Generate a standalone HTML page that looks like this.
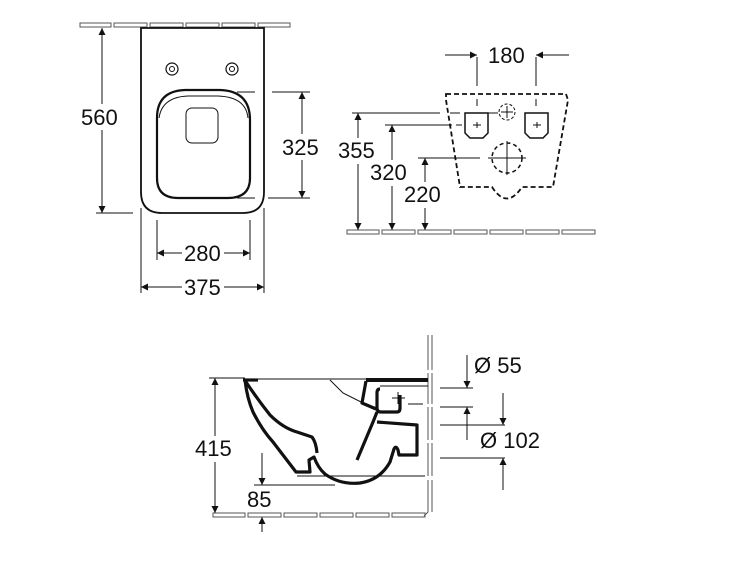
<!DOCTYPE html>
<html><head><style>html,body{margin:0;padding:0;background:#fff}svg{display:block}text{font-family:"Liberation Sans",sans-serif;font-size:22px;fill:#111}</style></head><body>
<svg width="750" height="563" viewBox="0 0 750 563" xmlns="http://www.w3.org/2000/svg">
<defs>
<marker id="a" viewBox="0 0 10 10" refX="10" refY="5" markerWidth="15" markerHeight="7" markerUnits="userSpaceOnUse" orient="auto-start-reverse"><path d="M0,0L10,5L0,10z" fill="#111"/></marker>
</defs>
<g fill="none" stroke="#555" stroke-width="1">
<rect x="80" y="23" width="31" height="4"/><rect x="114" y="23" width="33" height="4"/><rect x="150" y="23" width="33" height="4"/><rect x="186" y="23" width="33" height="4"/><rect x="222" y="23" width="33" height="4"/><rect x="258" y="23" width="32" height="4"/>
<rect x="347" y="230" width="32" height="4"/><rect x="382" y="230" width="33" height="4"/><rect x="418" y="230" width="33" height="4"/><rect x="454" y="230" width="33" height="4"/><rect x="490" y="230" width="33" height="4"/><rect x="526" y="230" width="33" height="4"/><rect x="562" y="230" width="33" height="4"/>
<rect x="213" y="513" width="32" height="4"/><rect x="248" y="513" width="33" height="4"/><rect x="284" y="513" width="33" height="4"/><rect x="320" y="513" width="33" height="4"/><rect x="356" y="513" width="33" height="4"/><rect x="392" y="513" width="33" height="4"/>
<path d="M428,335V370M428,373V404M428,407V440M428,443V476M428,480V512L424,516"/>
<path d="M432,335V370M432,373V404M432,407V440M432,443V476M432,480V512"/>
</g>

<g fill="none" stroke="#111">
<path d="M141,28H264V192Q264,213 243,213H162Q141,213 141,192Z" stroke-width="1.8"/>
<path d="M157,118Q157,91 185,90H220Q250,91 250,120V178Q250,198 228,198H178Q157,198 157,178Z" stroke-width="2.2"/>
<path d="M159,118Q162,97 188,96H218Q246,97 248,118" stroke-width="1"/>
<rect x="186" y="108" width="32" height="35" rx="6" stroke-width="1"/>
<circle cx="172" cy="69" r="6" stroke-width="1.2"/><circle cx="172" cy="69" r="2.5" stroke-width="1"/>
<circle cx="232" cy="69" r="6" stroke-width="1.2"/><circle cx="232" cy="69" r="2.5" stroke-width="1"/>
</g>
<g stroke="#111" stroke-width="1" fill="none">
<line x1="102" y1="28" x2="102" y2="213" marker-start="url(#a)" marker-end="url(#a)"/>
<line x1="96" y1="213" x2="133" y2="213"/>
<line x1="302" y1="92" x2="302" y2="198" marker-start="url(#a)" marker-end="url(#a)"/>
<line x1="237" y1="92" x2="255" y2="92"/><line x1="272" y1="92" x2="310" y2="92"/>
<line x1="237" y1="198" x2="255" y2="198"/><line x1="268" y1="198" x2="310" y2="198"/>
<line x1="157" y1="220" x2="157" y2="260"/><line x1="250" y1="220" x2="250" y2="260"/>
<line x1="141" y1="208" x2="141" y2="293"/><line x1="264" y1="208" x2="264" y2="293"/>
<line x1="157" y1="253" x2="182" y2="253" marker-start="url(#a)"/><line x1="224" y1="253" x2="250" y2="253" marker-end="url(#a)"/>
<line x1="141" y1="287" x2="182" y2="287" marker-start="url(#a)"/><line x1="224" y1="287" x2="264" y2="287" marker-end="url(#a)"/>
</g>
<rect x="80" y="104" width="44" height="26" fill="#fff"/>
<rect x="280" y="134" width="44" height="26" fill="#fff"/>
<text x="81" y="125">560</text>
<text x="282" y="155">325</text>
<text x="184" y="261">280</text>
<text x="184" y="295">375</text>

<g fill="none" stroke="#111" stroke-width="1.8" stroke-dasharray="5,3">
<path d="M446,94H566L568,100L553,187H522Q507,210 492,187H460L446,100Z"/>
<circle cx="507" cy="112" r="8" stroke-width="1" stroke-dasharray="3,2"/>
<circle cx="507" cy="158" r="15" stroke-width="1.5" stroke-dasharray="4,3"/>
</g>
<g fill="none" stroke="#111" stroke-width="1.5">
<path d="M465,113H488V133L483,138H470L465,133Z"/>
<path d="M525,113H548V133L543,138H530L525,133Z"/>
</g>
<g stroke="#111" stroke-width="1" fill="none">
<path d="M473,125h8M477,122v6M533,125h8M537,122v6"/>
<path d="M501,112h12M507,106v12M488,158h38M507,141v34"/>
<line x1="477" y1="57" x2="477" y2="86"/><line x1="536" y1="57" x2="536" y2="86"/>
<line x1="477" y1="99" x2="477" y2="106"/><line x1="536" y1="99" x2="536" y2="106"/>
<line x1="445" y1="55" x2="477" y2="55" marker-end="url(#a)"/>
<line x1="569" y1="55" x2="536" y2="55" marker-end="url(#a)"/>
<line x1="352" y1="113" x2="440" y2="113"/><path d="M450,113h10M468,113h12M488,113h10" />
<line x1="385" y1="125" x2="452" y2="125"/><line x1="456" y1="125" x2="462" y2="125"/>
<line x1="418" y1="158" x2="480" y2="158"/>
<line x1="358" y1="113" x2="358" y2="230" marker-start="url(#a)" marker-end="url(#a)"/>
<line x1="392" y1="125" x2="392" y2="230" marker-start="url(#a)" marker-end="url(#a)"/>
<line x1="425" y1="158" x2="425" y2="230" marker-start="url(#a)" marker-end="url(#a)"/>
</g>
<rect x="336" y="138" width="46" height="26" fill="#fff"/>
<rect x="369" y="160" width="46" height="26" fill="#fff"/>
<rect x="402" y="182" width="46" height="26" fill="#fff"/>
<text x="488" y="63">180</text>
<text x="338" y="158">355</text>
<text x="370" y="180">320</text>
<text x="404" y="202">220</text>

<g fill="none" stroke="#111" stroke-width="3.2" stroke-linejoin="round">
<path d="M245,380Q247,398 253,412Q262,430 273,442L296,472H310L309,460L314,457Q318,468 325,474Q340,485 360,483Q380,480 390,462L394,449Q396,445 398,450L399,455H417V425L377,422"/>
<path d="M246,382Q258,400 270,415Q283,428 297,432L312,437Q316,442 317,453"/>
<path d="M357,460L373,422L377,412"/>
<path d="M243,380H258"/>
<path d="M366,380H428" stroke-width="4"/>
<path d="M366,381L362,403L376,409"/>
<path d="M380,389Q377,389 377,393V408Q377,412 381,412H397Q400,412 400,408V395"/>
</g>
<g fill="none" stroke="#111" stroke-width="1">
<path d="M258,379H366"/>
<path d="M330,380L343,393L363,403L377,408"/>
<path d="M380,386H428M398,392v12M392,398h13M408,404h8M413,404h10"/>
<path d="M297,476H425"/>
<line x1="215" y1="378" x2="215" y2="513" marker-start="url(#a)" marker-end="url(#a)"/>
<line x1="209" y1="378" x2="245" y2="378"/>
<line x1="262" y1="453" x2="262" y2="485" marker-end="url(#a)"/>
<line x1="254" y1="485" x2="335" y2="485"/>
<line x1="262" y1="532" x2="262" y2="517" marker-end="url(#a)"/>
<line x1="440" y1="388" x2="473" y2="388"/><line x1="440" y1="407" x2="473" y2="407"/>
<line x1="440" y1="425" x2="505" y2="425"/><line x1="440" y1="458" x2="505" y2="458"/>
<line x1="467" y1="355" x2="467" y2="388" marker-end="url(#a)"/>
<line x1="467" y1="440" x2="467" y2="407" marker-end="url(#a)"/>
<line x1="503" y1="393" x2="503" y2="425" marker-end="url(#a)"/>
<line x1="503" y1="490" x2="503" y2="458" marker-end="url(#a)"/>
</g>
<rect x="193" y="436" width="46" height="26" fill="#fff"/>
<text x="195" y="456">415</text>
<text x="247" y="507">85</text>
<text x="474" y="373">Ø 55</text>
<text x="480" y="448">Ø 102</text>
</svg>
</body></html>
